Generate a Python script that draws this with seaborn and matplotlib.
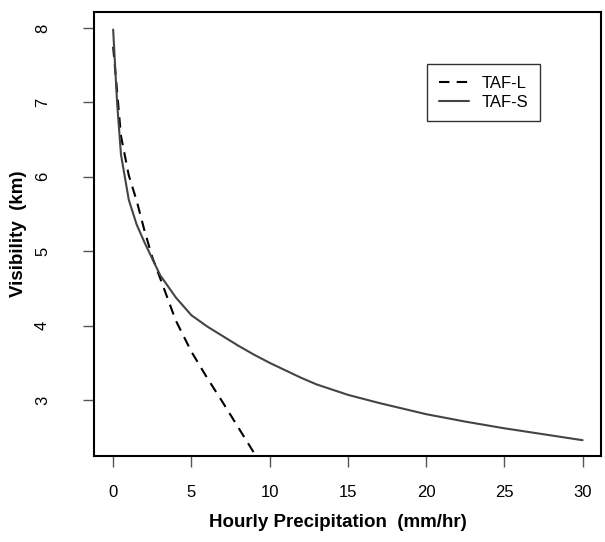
import matplotlib
matplotlib.use("Agg")
import matplotlib.pyplot as plt
import numpy as np
import pandas as pd
import seaborn as sns

# data
taf_l_x = [0, 0.5, 1, 1.5, 2, 2.5, 3, 4, 5, 6, 7, 8, 9]
taf_l_y = [7.75, 6.55, 6.02, 5.68, 5.28, 4.92, 4.64, 4.07, 3.65, 3.30, 2.97, 2.63, 2.29]

taf_s_x = [0, 0.25, 0.5, 1, 1.5, 2, 3, 4, 5, 6, 7, 8, 9, 10, 11, 12, 13, 14, 15, 17,
           18, 20, 22.5, 25, 27.5, 30]
taf_s_y = [7.98, 7.0, 6.3, 5.69, 5.36, 5.12, 4.68, 4.38, 4.14, 3.99, 3.86, 3.73, 3.61,
           3.50, 3.40, 3.30, 3.21, 3.14, 3.07, 2.96, 2.91, 2.81, 2.71, 2.62, 2.54, 2.46]

x_ticks = [0, 5, 10, 15, 20, 25, 30]
y_ticks = [3, 4, 5, 6, 7, 8]

df = pd.concat([
    pd.DataFrame({"precip": taf_l_x, "vis": taf_l_y, "model": "TAF-L"}),
    pd.DataFrame({"precip": taf_s_x, "vis": taf_s_y, "model": "TAF-S"}),
])

sns.set_style("white")
plt.rcParams['font.family'] = ['Liberation Sans', 'DejaVu Sans']
plt.rcParams['text.color'] = 'black'
plt.rcParams['axes.labelcolor'] = 'black'

fig = plt.figure(figsize=(6.05, 5.42), dpi=100)
ax = fig.add_axes([0.156, 0.159, 0.838, 0.818])

d = df[df.model == "TAF-L"]
sns.lineplot(data=d, x="precip", y="vis", ax=ax, color="black", lw=1.5,
             linestyle=(0, (5, 3.5)), label="TAF-L", sort=False)
d = df[df.model == "TAF-S"]
sns.lineplot(data=d, x="precip", y="vis", ax=ax, color="#444444", lw=1.5,
             label="TAF-S", sort=False)

ax.set_xlim(-1.2, 31.2)
ax.set_ylim(2.25, 8.21)
ax.set_xticks(x_ticks)
ax.set_yticks(y_ticks)
ax.set_xticklabels([str(v) for v in x_ticks], fontsize=12)
ax.set_yticklabels([str(v) for v in y_ticks], fontsize=12, rotation=90, va="center")
ax.tick_params(axis="both", direction="out", length=8, width=1, color="#555555",
               labelcolor="black", bottom=True, left=True)
ax.tick_params(axis="x", pad=13)
ax.tick_params(axis="y", pad=24)

for s in ax.spines.values():
    s.set_color("black")
    s.set_linewidth(1.5)

ax.set_xlabel("Hourly Precipitation  (mm/hr)", fontsize=13.5, fontweight="bold")
ax.set_ylabel("Visibility  (km)", fontsize=13.5, fontweight="bold")
ax.xaxis.set_label_coords(0.48, -0.132)
ax.yaxis.set_label_coords(-0.132, 0.5)

leg = ax.legend(loc="upper left", bbox_to_anchor=(0.656, 0.884), borderaxespad=0,
                fontsize=12, frameon=True, fancybox=False, handlelength=1.8,
                borderpad=0.7, labelspacing=0.25, handletextpad=0.8)
leg.get_frame().set_edgecolor("black")
leg.get_frame().set_linewidth(1.0)

fig.savefig("out.png", dpi=100)
